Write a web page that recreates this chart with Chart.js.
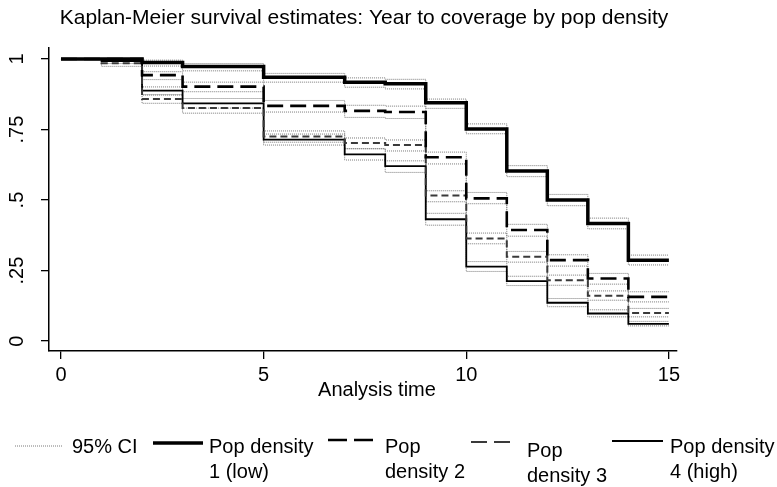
<!DOCTYPE html>
<html>
<head>
<meta charset="utf-8">
<script src="https://cdn.jsdelivr.net/npm/chart.js@4/dist/chart.umd.min.js"></script>
<style>
  html, body { margin: 0; padding: 0; background: #fff; }
  #km { display: block; }
</style>
</head>
<body>
<canvas id="km" width="777" height="487"></canvas>
<script>
// time points (years), value holds from t until the next step
const times = [0, 1, 2, 3, 4, 5, 6, 7, 8, 9, 10, 11, 12, 13, 14, 15];

const popLow  = [1, 1, 0.988, 0.973, 0.973, 0.935, 0.935, 0.918, 0.912, 0.845, 0.752, 0.603, 0.5, 0.417, 0.287, 0.287];
const popLowLo = [1, 1, 0.975, 0.958, 0.958, 0.918, 0.918, 0.9, 0.894, 0.825, 0.735, 0.583, 0.48, 0.398, 0.27, 0.27];
const popLowHi = [1, 1, 0.996, 0.984, 0.984, 0.949, 0.949, 0.933, 0.928, 0.858, 0.77, 0.622, 0.52, 0.436, 0.305, 0.305];

const pop2   = [1, 1, 0.943, 0.902, 0.902, 0.834, 0.834, 0.816, 0.812, 0.652, 0.506, 0.394, 0.287, 0.222, 0.157, 0.157];
const pop2Lo = [1, 1, 0.927, 0.884, 0.884, 0.812, 0.812, 0.793, 0.789, 0.628, 0.487, 0.372, 0.266, 0.202, 0.139, 0.139];
const pop2Hi = [1, 1, 0.955, 0.918, 0.918, 0.853, 0.853, 0.836, 0.833, 0.67, 0.527, 0.414, 0.306, 0.24, 0.175, 0.175];

const pop3   = [1, 0.985, 0.858, 0.826, 0.826, 0.725, 0.725, 0.702, 0.695, 0.516, 0.364, 0.299, 0.216, 0.161, 0.1, 0.1];
const pop3Lo = [1, 0.974, 0.843, 0.808, 0.808, 0.705, 0.705, 0.682, 0.674, 0.494, 0.345, 0.28, 0.198, 0.145, 0.086, 0.086];
const pop3Hi = [1, 0.993, 0.872, 0.842, 0.842, 0.745, 0.745, 0.72, 0.713, 0.533, 0.383, 0.318, 0.234, 0.178, 0.116, 0.116];

const popHigh   = [1, 0.993, 0.888, 0.843, 0.843, 0.714, 0.714, 0.662, 0.62, 0.432, 0.264, 0.213, 0.136, 0.098, 0.061, 0.061];
const popHighLo = [1, 0.984, 0.874, 0.826, 0.826, 0.695, 0.695, 0.642, 0.598, 0.411, 0.247, 0.197, 0.122, 0.086, 0.054, 0.054];
const popHighHi = [1, 0.998, 0.901, 0.86, 0.86, 0.734, 0.734, 0.682, 0.639, 0.453, 0.282, 0.23, 0.151, 0.111, 0.07, 0.07];

const xTicks = [0, 5, 10, 15];
const yTicks = [0, 0.25, 0.5, 0.75, 1];
const yTickLabels = ['0', '.25', '.5', '.75', '1'];

const FONT = '"Liberation Sans", Arial, sans-serif';

const styles = {
    ci:   { color: '#7a7a7a', width: 1, dash: [1, 1] },
    low:  { color: '#000', width: 3.5, dash: [] },
    d2:   { color: '#000', width: 2.6, dash: [16, 7] },
    d3:   { color: '#3a3a3a', width: 2, dash: [7, 4] },
    high: { color: '#000', width: 1.8, dash: [] }
};

function toPoints(vals) {
    return times.map((t, i) => ({ x: t, y: vals[i] }));
}

function line(label, vals, st, order) {
    return {
        label: label,
        data: toPoints(vals),
        borderColor: st.color,
        borderWidth: st.width,
        borderDash: st.dash,
        stepped: true,
        pointRadius: 0,
        fill: false,
        order: order
    };
}

const datasets = [
    line('Pop density 1 (low)', popLow, styles.low, 1),
    line('Pop density 2', pop2, styles.d2, 2),
    line('Pop density 3', pop3, styles.d3, 3),
    line('Pop density 4 (high)', popHigh, styles.high, 4),
    line('ci', popLowLo, styles.ci, 10), line('ci', popLowHi, styles.ci, 10),
    line('ci', pop2Lo, styles.ci, 10), line('ci', pop2Hi, styles.ci, 10),
    line('ci', pop3Lo, styles.ci, 10), line('ci', pop3Hi, styles.ci, 10),
    line('ci', popHighLo, styles.ci, 10), line('ci', popHighHi, styles.ci, 10)
];

// legend entries: sample line + text lines, Stata style
const legendItems = [
    { st: styles.ci,   dash: [1, 1],   x0: 15,  x1: 62,  y: 446, tx: 72,  ty: 447, text: ['95% CI'] },
    { st: styles.low,  dash: [],       x0: 153, x1: 203, y: 443, tx: 209, ty: 447, text: ['Pop density', '1 (low)'] },
    { st: styles.d2,   dash: [19, 7],  x0: 328, x1: 374, y: 440, tx: 385, ty: 447, text: ['Pop', 'density 2'] },
    { st: styles.d3,   dash: [16, 7],  x0: 471, x1: 511, y: 442, tx: 527, ty: 451, text: ['Pop', 'density 3'] },
    { st: styles.high, dash: [],       x0: 612, x1: 663, y: 441, tx: 670, ty: 447, text: ['Pop density', '4 (high)'] }
];

const textPlugin = {
    id: 'stataText',
    afterDraw(chart) {
        const ctx = chart.ctx;
        const xs = chart.scales.x;
        const ys = chart.scales.y;
        ctx.save();
        ctx.fillStyle = '#000';

        // title
        ctx.font = '21px ' + FONT;
        ctx.textAlign = 'center';
        ctx.textBaseline = 'middle';
        ctx.fillText('Kaplan-Meier survival estimates: Year to coverage by pop density', 364, 18);

        // x tick labels
        ctx.font = '20px ' + FONT;
        xTicks.forEach(v => ctx.fillText(String(v), xs.getPixelForValue(v), 375));
        ctx.fillText('Analysis time', 377, 390);

        // y tick labels, rotated
        yTicks.forEach((v, i) => {
            ctx.save();
            ctx.translate(17, ys.getPixelForValue(v));
            ctx.rotate(-Math.PI / 2);
            ctx.fillText(yTickLabels[i], 0, 0);
            ctx.restore();
        });

        // legend
        ctx.textAlign = 'left';
        legendItems.forEach(it => {
            ctx.save();
            ctx.strokeStyle = it.st.color;
            ctx.lineWidth = it.st.width;
            ctx.setLineDash(it.dash);
            ctx.beginPath();
            ctx.moveTo(it.x0, it.y);
            ctx.lineTo(it.x1, it.y);
            ctx.stroke();
            ctx.restore();
            it.text.forEach((s, k) => ctx.fillText(s, it.tx, it.ty + k * 25));
        });
        ctx.restore();
    }
};

const axisCommon = {
    type: 'linear',
    border: { display: true, color: '#000', width: 1.5 },
    grid: { display: true, drawOnChartArea: false, drawTicks: true, tickLength: 8, color: '#000', lineWidth: 1.3 },
    ticks: { display: false }
};

new Chart(document.getElementById('km'), {
    type: 'line',
    data: { datasets: datasets },
    options: {
        responsive: false,
        animation: false,
        events: [],
        layout: { padding: { left: 41, right: 100, top: 48, bottom: 128 } },
        plugins: { legend: { display: false }, tooltip: { enabled: false } },
        scales: {
            x: Object.assign({}, axisCommon, {
                min: -0.296, max: 15.2,
                afterBuildTicks: axis => { axis.ticks = xTicks.map(v => ({ value: v })); }
            }),
            y: Object.assign({}, axisCommon, {
                min: -0.035, max: 1.039,
                afterBuildTicks: axis => { axis.ticks = yTicks.map(v => ({ value: v })); }
            })
        }
    },
    plugins: [textPlugin]
});
</script>
</body>
</html>
